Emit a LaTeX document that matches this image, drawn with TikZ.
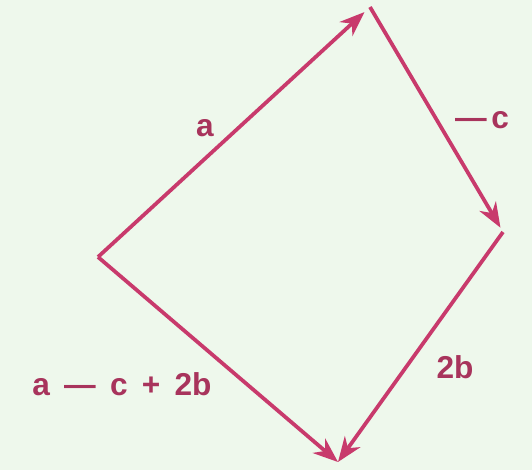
\documentclass[tikz,border=0pt]{standalone}
\usepackage{fontspec}
\setmainfont{Liberation Sans}
\usetikzlibrary{arrows.meta}

\definecolor{paper}{RGB}{238,248,236}
\definecolor{vecred}{RGB}{200,58,108}
\definecolor{labred}{RGB}{168,52,92}

\begin{document}
\begin{tikzpicture}[x=0.02cm, y=-0.02cm,
    vec/.style={vecred, line width=0.75mm, -{Stealth[length=5mm, width=3.8mm, inset=1.6mm]}},
    lab/.style={labred, font=\fontsize{18}{20}\selectfont\bfseries, inner sep=0pt}]
    % background
    \fill[paper] (0,0) rectangle (532,470);
    \useasboundingbox (0,0) rectangle (532,470);

    % corners of the quadrilateral
    \coordinate (A) at (98,257);
    \coordinate (B) at (370,7);
    \coordinate (C) at (503,232);
    \coordinate (D) at (338,462);

    % vectors
    \draw[vec, shorten >=1.5mm] (A) -- (B);
    \draw[vec, shorten >=1mm] (B) -- (C);
    \draw[vec] (C) -- (D);
    \draw[vec] (A) -- (D);

    % labels
    \node[lab] (la) at (205,128) {a};
    \node[lab] (lc) at (482,120) {—\hspace{0.15em}c};
    \node[lab] (lb) at (455,367) {2b};
    \node[lab] (ld) at (122,384) {a\hspace{0.45em}—\hspace{0.45em}c\hspace{0.45em}+\hspace{0.45em}2b};
\end{tikzpicture}
\end{document}
